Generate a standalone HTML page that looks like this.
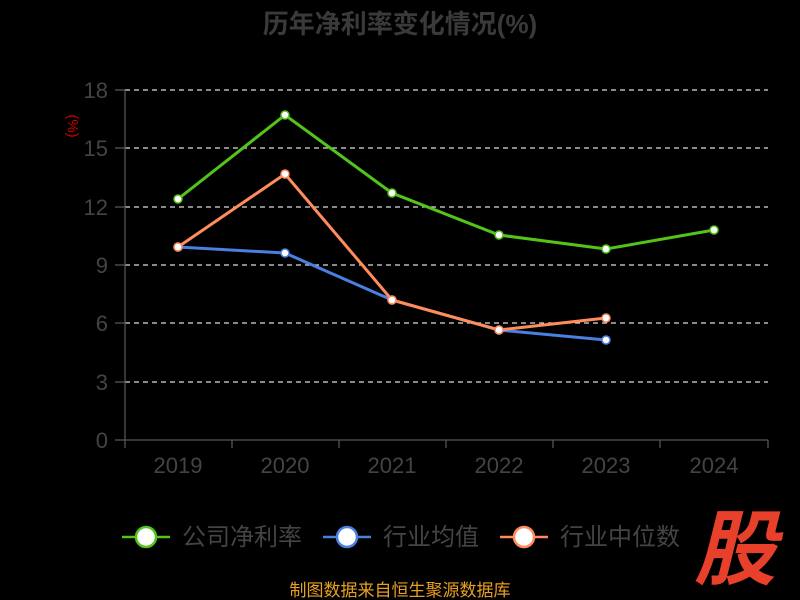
<!DOCTYPE html>
<html><head><meta charset="utf-8"><style>
body{margin:0;background:#000;}
svg{display:block;font-family:"Liberation Sans","Noto Sans CJK SC",sans-serif;}
</style></head><body>
<svg width="800" height="600" viewBox="0 0 800 600">
<rect width="800" height="600" fill="#000"/>
<text x="400" y="33" text-anchor="middle" font-size="26" font-weight="bold" fill="#3a3a3a">历年净利率变化情况(%)</text>
<text x="68" y="126" font-size="15" fill="#cc0000" transform="rotate(90 68 126)" text-anchor="middle">(%)</text>
<g stroke="#ddd" stroke-width="1.3" stroke-dasharray="5,4">
<line x1="125" y1="90" x2="768" y2="90"/><line x1="125" y1="148" x2="768" y2="148"/>
<line x1="125" y1="207" x2="768" y2="207"/><line x1="125" y1="265" x2="768" y2="265"/>
<line x1="125" y1="323" x2="768" y2="323"/><line x1="125" y1="382" x2="768" y2="382"/>
</g>
<g stroke="#555" stroke-width="1.3">
<line x1="125" y1="90" x2="125" y2="440"/><line x1="125" y1="440" x2="768" y2="440"/>
<line x1="115" y1="90" x2="125" y2="90"/><line x1="115" y1="148" x2="125" y2="148"/><line x1="115" y1="207" x2="125" y2="207"/><line x1="115" y1="265" x2="125" y2="265"/><line x1="115" y1="323" x2="125" y2="323"/><line x1="115" y1="382" x2="125" y2="382"/><line x1="115" y1="440" x2="125" y2="440"/>
<line x1="125" y1="440" x2="125" y2="448"/><line x1="232" y1="440" x2="232" y2="448"/><line x1="339" y1="440" x2="339" y2="448"/><line x1="446" y1="440" x2="446" y2="448"/><line x1="553" y1="440" x2="553" y2="448"/><line x1="660" y1="440" x2="660" y2="448"/><line x1="768" y1="440" x2="768" y2="448"/>
</g>
<g font-size="22" fill="#444" text-anchor="end">
<text x="108" y="98">18</text><text x="108" y="156">15</text><text x="108" y="215">12</text><text x="108" y="273">9</text><text x="108" y="331">6</text><text x="108" y="390">3</text><text x="108" y="448">0</text>
</g>
<g font-size="22" fill="#444" text-anchor="middle">
<text x="178" y="473">2019</text><text x="285" y="473">2020</text><text x="392" y="473">2021</text><text x="499" y="473">2022</text><text x="606" y="473">2023</text><text x="714" y="473">2024</text>
</g>
<g fill="none" stroke-width="3">
<polyline stroke="#52c41a" points="178,199 285,115 392,193 499,235 606,249 714,230"/>
<polyline stroke="#4a80e0" points="178,247 285,253 392,300 499,330 606,340"/>
<polyline stroke="#ff8c5a" points="178,247 285,174 392,300 499,330 606,318"/>
</g>
<g fill="#fff" stroke-width="1.5">
<g stroke="#52c41a"><circle cx="178" cy="199" r="4"/><circle cx="285" cy="115" r="4"/><circle cx="392" cy="193" r="4"/><circle cx="499" cy="235" r="4"/><circle cx="606" cy="249" r="4"/><circle cx="714" cy="230" r="4"/></g>
<g stroke="#4a80e0"><circle cx="178" cy="247" r="4"/><circle cx="285" cy="253" r="4"/><circle cx="392" cy="300" r="4"/><circle cx="499" cy="330" r="4"/><circle cx="606" cy="340" r="4"/></g>
<g stroke="#ff8c5a"><circle cx="178" cy="247" r="4"/><circle cx="285" cy="174" r="4"/><circle cx="392" cy="300" r="4"/><circle cx="499" cy="330" r="4"/><circle cx="606" cy="318" r="4"/></g>
</g>
<g stroke-width="2.5">
<line x1="122" y1="537" x2="170" y2="537" stroke="#52c41a"/><circle cx="146" cy="537" r="10" fill="#fff" stroke="#52c41a"/>
<line x1="323" y1="537" x2="371" y2="537" stroke="#4a80e0"/><circle cx="347" cy="537" r="10" fill="#fff" stroke="#4a80e0"/>
<line x1="500" y1="537" x2="548" y2="537" stroke="#ff8c5a"/><circle cx="524" cy="537" r="10" fill="#fff" stroke="#ff8c5a"/>
</g>
<g font-size="24" fill="#444">
<text x="182" y="545">公司净利率</text><text x="383" y="545">行业均值</text><text x="560" y="545">行业中位数</text>
</g>
<text x="735" y="578" text-anchor="middle" font-size="82" font-weight="bold" fill="#e8402a" font-style="italic">股</text>
<text x="400" y="596" text-anchor="middle" font-size="17" fill="#e8a020">制图数据来自恒生聚源数据库</text>
</svg>
</body></html>
